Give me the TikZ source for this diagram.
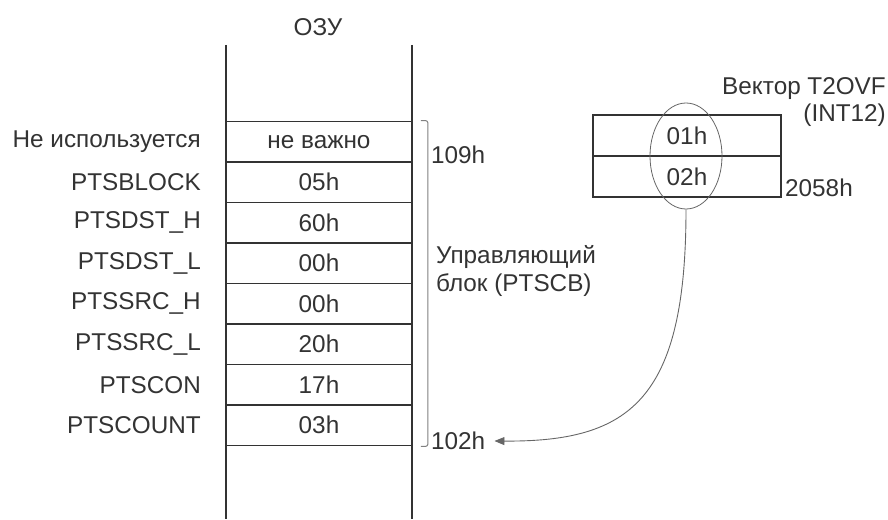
\documentclass[tikz,border=0pt]{standalone}
\usepackage{fontspec}
\setmainfont{Liberation Sans}
\usetikzlibrary{arrows.meta,shapes.geometric}

\begin{document}
\begin{tikzpicture}[x=1pt,y=-1pt,font=\fontsize{24.3}{27.5}\selectfont,text=black!80,
 cell/.style={draw=black!80,line width=1.6pt,minimum width=186pt,minimum height=40.5pt,inner sep=0pt},
 vcell/.style={draw=black!80,line width=1.6pt,minimum width=188pt,minimum height=41pt,inner sep=0pt},
 lbl/.style={anchor=east,inner sep=0pt},
 addr/.style={anchor=west,inner sep=0pt},
 arr/.style={-{Triangle[length=10pt,width=8pt]},black!60,line width=0.9pt}]
\useasboundingbox (0,0) rectangle (888,519);
\node (ram) at (318,27) {ОЗУ};
\draw[black!80,line width=1.6pt] (226,45) -- (226,519) (412,45) -- (412,519);
\foreach \val/\name [count=\i] in {не важно/Не используется,05h/PTSBLOCK,60h/PTSDST\_H,00h/PTSDST\_L,00h/PTSSRC\_H,20h/PTSSRC\_L,17h/PTSCON,03h/PTSCOUNT}{
  \node[cell] (cell\i) at (319,{141.75+40.5*(\i-1)}) {\val};
  \node[lbl] (name\i) at (201,{141.75+40.5*(\i-1)}) {\name};
}
\draw[black!50,line width=1pt,rounded corners=2pt] (cell1.north east) ++(8,0) -- ++(7,0) |- ([xshift=8pt]cell8.south east);
\node[addr] (top) at (431,155) {109h};
\node[addr] (bot) at (431,441) {102h};
\node[addr,align=left] (pcb) at (436,271) {Управляющий\\блок (PTSCB)};
\node[vcell] (v1) at (687,135.5) {01h};
\node[vcell] (v2) at (687,176.5) {02h};
\node[anchor=east,inner sep=0pt,align=right] (vname) at (886,102) {Вектор T2OVF\\(INT12)};
\node[addr] (vaddr) at (785,188) {2058h};
\node[ellipse,draw=black!60,line width=0.8pt,minimum width=72pt,minimum height=106pt,inner sep=0pt] (vec) at (686,156) {};
\draw[arr] (vec.south) .. controls (686,400) and (630,442) .. ([xshift=9pt]bot.east);
\end{tikzpicture}
\end{document}
